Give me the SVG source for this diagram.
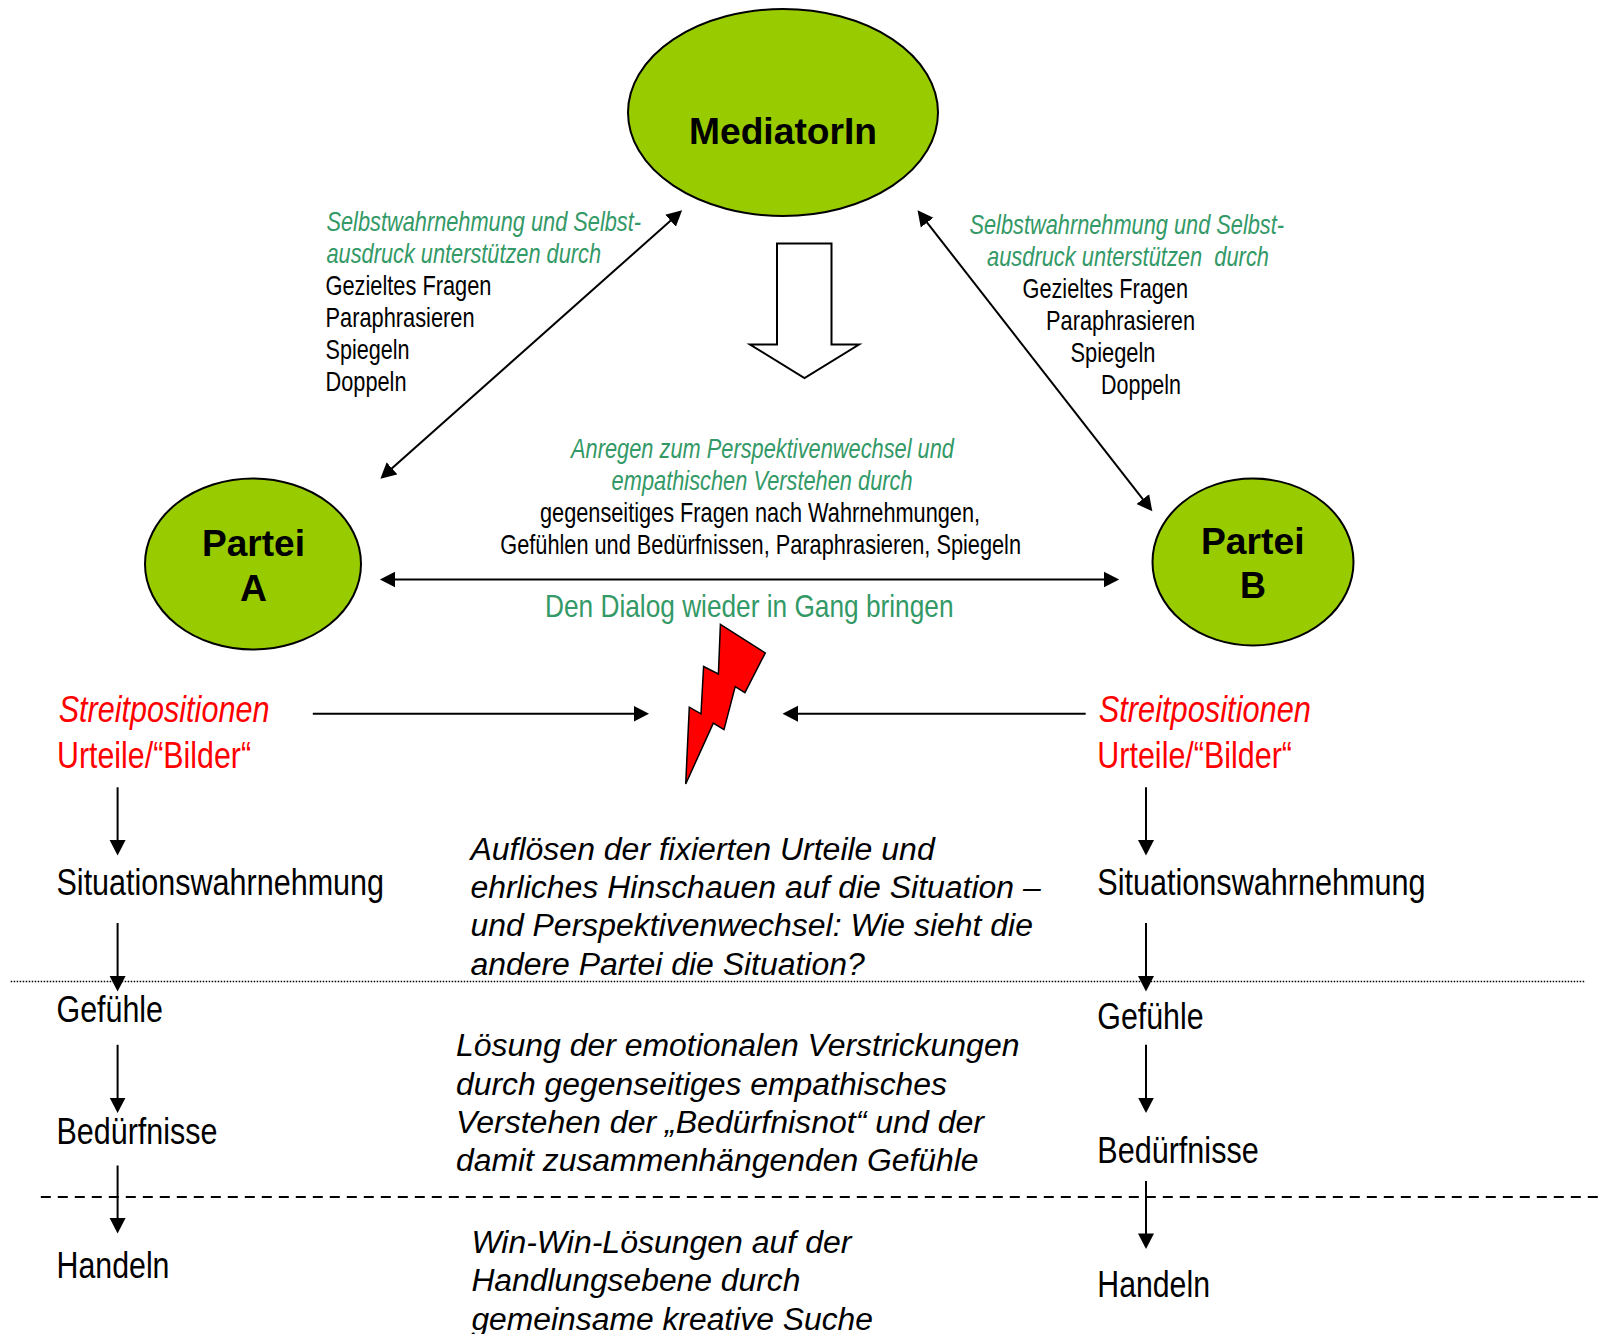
<svg xmlns="http://www.w3.org/2000/svg" width="1599" height="1334" viewBox="0 0 1599 1334">
<style>
text{font-family:"Liberation Sans",Arial,sans-serif;white-space:pre}
.n{font-size:28px;fill:#000}
.g{font-size:28px;fill:#339966;font-style:italic}
.d{font-size:32px;fill:#339966}
.h{font-size:37px;fill:#ff0000}
.hi{font-size:37px;fill:#ff0000;font-style:italic}
.l{font-size:37px;fill:#000}
.i{font-size:31px;fill:#000;font-style:italic}
.b{font-size:37px;font-weight:bold;fill:#000}
.e{fill:#99cc00;stroke:#000;stroke-width:2}
.c{stroke:#000;stroke-width:2;fill:none}
.a{marker-end:url(#h)}
.aa{marker-start:url(#h);marker-end:url(#h)}
</style>
<defs>
<marker id="h" markerUnits="userSpaceOnUse" markerWidth="17" markerHeight="17" refX="12" refY="8.5" orient="auto-start-reverse" viewBox="0 0 17 17"><path d="M0,0.5 L15.5,8.5 L0,16.5 Z" fill="#000"/></marker>
</defs>
<rect width="1599" height="1334" fill="#fff"/>

<g id="connectors">
<line class="c" x1="10.7" y1="981.6" x2="1585.7" y2="981.6" stroke-dasharray="1.5 1.5" style="stroke-width:1.5"/>
<line class="c" x1="40.8" y1="1197" x2="1599" y2="1197" stroke-dasharray="10 7"/>
<line class="c aa" x1="679.5" y1="212.7" x2="383" y2="476.3"/>
<line class="c aa" x1="919.7" y1="213.1" x2="1150.2" y2="508.6"/>
<line class="c aa" x1="383.4" y1="579.5" x2="1115.7" y2="579.5"/>
<line class="c a" x1="312.8" y1="713.8" x2="645.5" y2="713.8"/>
<line class="c a" x1="1085.7" y1="713.8" x2="786" y2="713.8"/>
<line class="c a" x1="117.6" y1="787.3" x2="117.6" y2="852"/>
<line class="c a" x1="117.6" y1="923" x2="117.6" y2="988"/>
<line class="c a" x1="117.6" y1="1044.8" x2="117.6" y2="1109.6"/>
<line class="c a" x1="117.6" y1="1165.5" x2="117.6" y2="1230"/>
<line class="c a" x1="1146" y1="787.3" x2="1146" y2="852"/>
<line class="c a" x1="1146" y1="923" x2="1146" y2="988"/>
<line class="c a" x1="1146" y1="1044.8" x2="1146" y2="1109.6"/>
<line class="c a" x1="1146" y1="1181" x2="1146" y2="1245.4"/>
</g>

<g id="mediator">
<ellipse class="e" cx="783" cy="112.5" rx="155" ry="103.5"/>
<text class="b" x="689" y="143.5" textLength="188" lengthAdjust="spacingAndGlyphs">MediatorIn</text>
</g>
<g id="partei-a">
<ellipse class="e" cx="253" cy="564" rx="108" ry="85.5"/>
<text class="b" x="202" y="556" textLength="103" lengthAdjust="spacingAndGlyphs">Partei</text>
<text class="b" x="240" y="601" textLength="27" lengthAdjust="spacingAndGlyphs">A</text>
</g>
<g id="partei-b">
<ellipse class="e" cx="1253" cy="562" rx="100.5" ry="83.5"/>
<text class="b" x="1201" y="554" textLength="103.5" lengthAdjust="spacingAndGlyphs">Partei</text>
<text class="b" x="1240" y="598" textLength="26" lengthAdjust="spacingAndGlyphs">B</text>
</g>
<g id="down-arrow">
<path d="M777,243.5 H831.5 V344.5 H859 L804.5,378 L750,344.5 H777 Z" fill="#fff" stroke="#000" stroke-width="2"/>
</g>
<g id="conflict">
<path d="M720.4,624.3 L765.3,652.9 L744.9,692.7 L735.2,686.6 L724,729.7 L713.3,723.1 L685.7,784 L689.3,707.2 L701,713.8 L703.6,666.5 L718.4,674 Z" fill="#ff0000" stroke="#000" stroke-width="1.5"/>
</g>

<g id="label-left">
<text class="g" x="326.5" y="231" textLength="314.5" lengthAdjust="spacingAndGlyphs">Selbstwahrnehmung und Selbst-</text>
<text class="g" x="326.5" y="263" textLength="274.5" lengthAdjust="spacingAndGlyphs">ausdruck unterstützen durch</text>
<text class="n" x="325.5" y="295" textLength="166" lengthAdjust="spacingAndGlyphs">Gezieltes Fragen</text>
<text class="n" x="325.5" y="327" textLength="149" lengthAdjust="spacingAndGlyphs">Paraphrasieren</text>
<text class="n" x="325.5" y="359" textLength="84" lengthAdjust="spacingAndGlyphs">Spiegeln</text>
<text class="n" x="325.5" y="391" textLength="81" lengthAdjust="spacingAndGlyphs">Doppeln</text>
</g>
<g id="label-right">
<text class="g" x="969.5" y="234" textLength="314.5" lengthAdjust="spacingAndGlyphs">Selbstwahrnehmung und Selbst-</text>
<text class="g" x="987" y="266" textLength="282" lengthAdjust="spacingAndGlyphs">ausdruck unterstützen  durch</text>
<text class="n" x="1022.5" y="298" textLength="165.5" lengthAdjust="spacingAndGlyphs">Gezieltes Fragen</text>
<text class="n" x="1046" y="330" textLength="149" lengthAdjust="spacingAndGlyphs">Paraphrasieren</text>
<text class="n" x="1070.5" y="362" textLength="85" lengthAdjust="spacingAndGlyphs">Spiegeln</text>
<text class="n" x="1101" y="394" textLength="80" lengthAdjust="spacingAndGlyphs">Doppeln</text>
</g>
<g id="label-center">
<text class="g" x="571" y="458" textLength="383" lengthAdjust="spacingAndGlyphs">Anregen zum Perspektivenwechsel und</text>
<text class="g" x="611.6" y="490" textLength="301" lengthAdjust="spacingAndGlyphs">empathischen Verstehen durch</text>
<text class="n" x="540" y="522" textLength="440" lengthAdjust="spacingAndGlyphs">gegenseitiges Fragen nach Wahrnehmungen,</text>
<text class="n" x="500.3" y="554" textLength="520.7" lengthAdjust="spacingAndGlyphs">Gefühlen und Bedürfnissen, Paraphrasieren, Spiegeln</text>
<text class="d" x="545" y="616.5" textLength="408.5" lengthAdjust="spacingAndGlyphs">Den Dialog wieder in Gang bringen</text>
</g>

<g id="column-a">
<text class="hi" x="58.7" y="722" textLength="210.7" lengthAdjust="spacingAndGlyphs">Streitpositionen</text>
<text class="h" x="57" y="767.5" textLength="194" lengthAdjust="spacingAndGlyphs">Urteile/“Bilder“</text>
<text class="l" x="56.5" y="894.5" textLength="327.5" lengthAdjust="spacingAndGlyphs">Situationswahrnehmung</text>
<text class="l" x="56.5" y="1021.8" textLength="106.5" lengthAdjust="spacingAndGlyphs">Gefühle</text>
<text class="l" x="56.5" y="1143.5" textLength="161" lengthAdjust="spacingAndGlyphs">Bedürfnisse</text>
<text class="l" x="56.5" y="1277.5" textLength="113" lengthAdjust="spacingAndGlyphs">Handeln</text>
</g>
<g id="column-b">
<text class="hi" x="1098.7" y="722" textLength="212.3" lengthAdjust="spacingAndGlyphs">Streitpositionen</text>
<text class="h" x="1097.3" y="767.5" textLength="194.7" lengthAdjust="spacingAndGlyphs">Urteile/“Bilder“</text>
<text class="l" x="1097.3" y="894.5" textLength="328.2" lengthAdjust="spacingAndGlyphs">Situationswahrnehmung</text>
<text class="l" x="1097.3" y="1028.9" textLength="106.3" lengthAdjust="spacingAndGlyphs">Gefühle</text>
<text class="l" x="1097.3" y="1163.2" textLength="161.4" lengthAdjust="spacingAndGlyphs">Bedürfnisse</text>
<text class="l" x="1097.3" y="1297.1" textLength="112.7" lengthAdjust="spacingAndGlyphs">Handeln</text>
</g>

<g id="text-urteile">
<text class="i" x="470.4" y="859.8" textLength="464.3" lengthAdjust="spacingAndGlyphs">Auflösen der fixierten Urteile und</text>
<text class="i" x="470.4" y="898" textLength="570.4" lengthAdjust="spacingAndGlyphs">ehrliches Hinschauen auf die Situation –</text>
<text class="i" x="470.4" y="936" textLength="562.6" lengthAdjust="spacingAndGlyphs">und Perspektivenwechsel: Wie sieht die</text>
<text class="i" x="470.4" y="975" textLength="394.4" lengthAdjust="spacingAndGlyphs">andere Partei die Situation?</text>
</g>
<g id="text-emotionen">
<text class="i" x="456" y="1055.5" textLength="563.4" lengthAdjust="spacingAndGlyphs">Lösung der emotionalen Verstrickungen</text>
<text class="i" x="456" y="1095" textLength="491" lengthAdjust="spacingAndGlyphs">durch gegenseitiges empathisches</text>
<text class="i" x="456" y="1133" textLength="528" lengthAdjust="spacingAndGlyphs">Verstehen der „Bedürfnisnot“ und der</text>
<text class="i" x="456" y="1171" textLength="522.6" lengthAdjust="spacingAndGlyphs">damit zusammenhängenden Gefühle</text>
</g>
<g id="text-handeln">
<text class="i" x="471.4" y="1253" textLength="380" lengthAdjust="spacingAndGlyphs">Win-Win-Lösungen auf der</text>
<text class="i" x="471.4" y="1291" textLength="329" lengthAdjust="spacingAndGlyphs">Handlungsebene durch</text>
<text class="i" x="471.4" y="1330" textLength="401.6" lengthAdjust="spacingAndGlyphs">gemeinsame kreative Suche</text>
</g>
</svg>
